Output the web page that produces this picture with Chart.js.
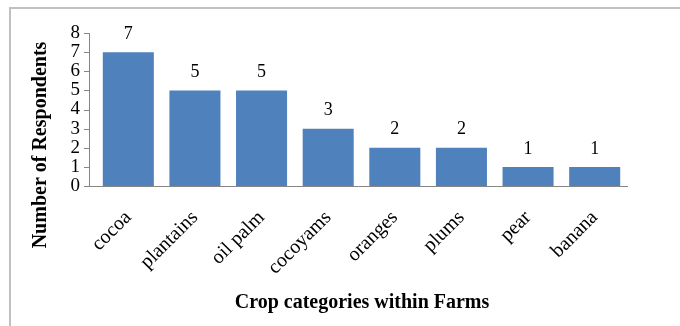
<!DOCTYPE html>
<html>
<head>
<meta charset="utf-8">
<script src="https://cdn.jsdelivr.net/npm/chart.js@4.4.1/dist/chart.umd.min.js"></script>
<style>
  html, body { margin: 0; padding: 0; background: #fff; }
  #wrap { position: relative; width: 680px; height: 326px; overflow: hidden; }
  #frame { position: absolute; left: 9px; top: 7px; width: 700px; height: 340px; border: 2px solid #c0c0c0; box-sizing: border-box; }
  canvas { position: absolute; left: 0; top: 0; }
</style>
</head>
<body>
<div id="wrap">
  <div id="frame"></div>
  <canvas id="c" width="680" height="326"></canvas>
</div>
<script>
const categories = ["cocoa", "plantains", "oil palm", "cocoyams", "oranges", "plums", "pear", "banana"];
const respondents = [7, 5, 5, 3, 2, 2, 1, 1];
const yTicks = [0, 1, 2, 3, 4, 5, 6, 7, 8];
const xTitle = "Crop categories within Farms";
const yTitle = "Number of Respondents";

const serif = "'Liberation Serif', 'Times New Roman', serif";
const AXIS_X = 89;

const labelsPlugin = {
  id: 'labelsPlugin',
  afterDatasetsDraw(chart) {
    const ctx = chart.ctx;
    const meta = chart.getDatasetMeta(0);
    ctx.save();
    ctx.font = "18px " + serif;
    ctx.fillStyle = "#000";
    ctx.textAlign = "center";
    ctx.textBaseline = "bottom";
    meta.data.forEach((bar, i) => {
      ctx.fillText(String(respondents[i]), bar.x, bar.y - 9);
    });
    ctx.restore();
  },
  afterDraw(chart) {
    const ctx = chart.ctx;
    const ys = chart.scales.y;
    const area = chart.chartArea;
    ctx.save();
    ctx.strokeStyle = '#868686';
    ctx.lineWidth = 1;
    ctx.beginPath();
    const y0 = Math.round(ys.getPixelForValue(0)) + 0.5;
    const y8 = Math.round(ys.getPixelForValue(8)) + 0.5;
    ctx.moveTo(AXIS_X + 0.5, y8);
    ctx.lineTo(AXIS_X + 0.5, y0);
    ctx.moveTo(AXIS_X, y0);
    ctx.lineTo(area.right, y0);
    yTicks.forEach(v => {
      const py = Math.round(ys.getPixelForValue(v)) + 0.5;
      ctx.moveTo(AXIS_X - 5, py);
      ctx.lineTo(AXIS_X + 1, py);
    });
    ctx.stroke();
    ctx.fillStyle = "#000";
    ctx.font = "bold 20px " + serif;
    ctx.textAlign = "center";
    ctx.textBaseline = "middle";
    ctx.fillText(xTitle, 362, 303);
    ctx.translate(41, 145);
    ctx.rotate(-Math.PI / 2);
    ctx.fillText(yTitle, 0, 0);
    ctx.restore();
  }
};

new Chart(document.getElementById('c'), {
  type: 'bar',
  data: {
    labels: categories,
    datasets: [{
      data: respondents,
      backgroundColor: '#4f81bd',
      borderWidth: 0,
      barPercentage: 0.766,
      categoryPercentage: 1.0
    }]
  },
  options: {
    responsive: false,
    animation: false,
    devicePixelRatio: 1,
    layout: { padding: { left: 0, top: 33, right: 52, bottom: 0 } },
    plugins: { legend: { display: false }, tooltip: { enabled: false } },
    scales: {
      x: {
        grid: { display: false, drawTicks: false },
        border: { display: false },
        ticks: {
          color: '#000',
          font: { family: serif, size: 20 },
          minRotation: 45,
          maxRotation: 45,
          autoSkip: false,
          padding: 20
        },
        afterFit(scale) { scale.height = 140; }
      },
      y: {
        min: 0,
        max: 8,
        afterBuildTicks(scale) { scale.ticks = yTicks.map(v => ({ value: v })); },
        grid: { display: false, drawTicks: false },
        border: { display: false },
        ticks: {
          color: '#000',
          font: { family: serif, size: 19 },
          autoSkip: false,
          padding: 15
        },
        afterFit(scale) { scale.width = 95; }
      }
    }
  },
  plugins: [labelsPlugin]
});
</script>
</body>
</html>
